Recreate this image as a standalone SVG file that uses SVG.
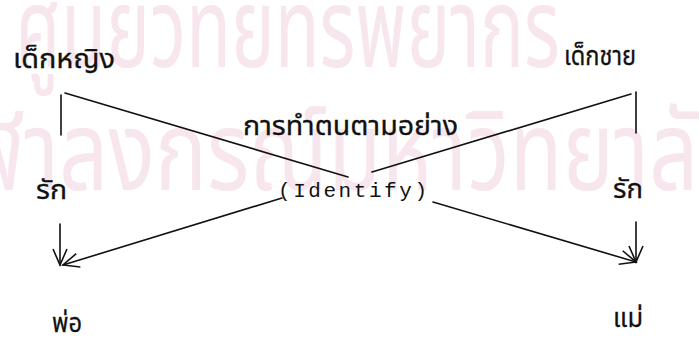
<svg xmlns="http://www.w3.org/2000/svg" width="699" height="349" viewBox="0 0 699 349">
<defs>
<style>
.wm{font-family:"Noto Sans Thai","Noto Sans","DejaVu Sans",sans-serif;fill:#f7e6ed;font-size:110px}
.th{font-family:"Noto Sans Thai","Noto Sans","DejaVu Sans",sans-serif;fill:#111;font-size:27px;stroke:#111;stroke-width:0.3}
.mono{font-family:"Liberation Mono",monospace;fill:#111;font-size:21px}
.ln{stroke:#111;stroke-width:1.6;fill:none;stroke-linecap:round}
</style>
<marker id="ah" viewBox="0 0 20 20" refX="18" refY="10" markerWidth="20" markerHeight="20" markerUnits="userSpaceOnUse" orient="auto">
<path d="M2,3 L18,10 L2,17" fill="none" stroke="#111" stroke-width="1.6"/>
</marker>
</defs>
<rect width="699" height="349" fill="#fff"/>
<g id="watermark">
<text class="wm" x="15" y="67" textLength="545" lengthAdjust="spacingAndGlyphs">ศูนย์วิทยทรัพยากร</text>
<text class="wm" x="-80" y="190" textLength="830" lengthAdjust="spacingAndGlyphs">จุฬาลงกรณ์มหาวิทยาลัย</text>
</g>
<g id="connectors">
<line class="ln" x1="61" y1="95" x2="61" y2="135"/>
<line class="ln" x1="636" y1="92" x2="636" y2="133"/>
<line class="ln" x1="65" y1="93" x2="348" y2="177"/>
<line class="ln" x1="433" y1="202" x2="636" y2="262" marker-end="url(#ah)"/>
<line class="ln" x1="631" y1="94" x2="372" y2="172"/>
<line class="ln" x1="282" y1="198" x2="63" y2="265" marker-end="url(#ah)"/>
<line class="ln" x1="60" y1="224" x2="60" y2="265" marker-end="url(#ah)"/>
<line class="ln" x1="636" y1="222" x2="636" y2="262" marker-end="url(#ah)"/>
</g>
<g id="girl"><text class="th" x="13" y="68" textLength="102" lengthAdjust="spacingAndGlyphs">เด็กหญิง</text></g>
<g id="boy"><text class="th" x="564" y="65" textLength="72" lengthAdjust="spacingAndGlyphs">เด็กชาย</text></g>
<g id="identify">
<text class="th" x="243" y="135" textLength="215" lengthAdjust="spacingAndGlyphs">การทำตนตามอย่าง</text>
<text class="mono" x="278" y="197" textLength="149" lengthAdjust="spacing">(Identify)</text>
</g>
<g id="love-left"><text class="th" x="36" y="199" textLength="31" lengthAdjust="spacingAndGlyphs">รัก</text></g>
<g id="love-right"><text class="th" x="613" y="198" textLength="30" lengthAdjust="spacingAndGlyphs">รัก</text></g>
<g id="father"><text class="th" x="52" y="332" textLength="30" lengthAdjust="spacingAndGlyphs">พ่อ</text></g>
<g id="mother"><text class="th" x="613" y="327" textLength="30" lengthAdjust="spacingAndGlyphs">แม่</text></g>
</svg>
